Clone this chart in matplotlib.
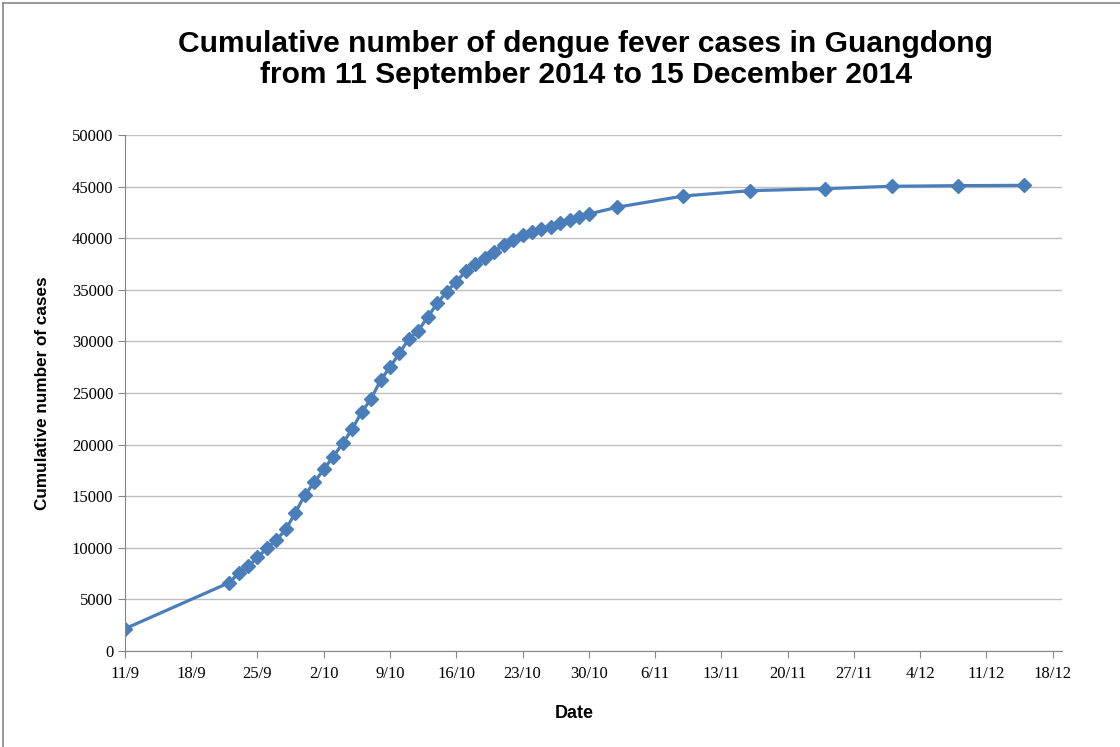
import datetime as dt
import matplotlib
matplotlib.use("Agg")
import matplotlib.pyplot as plt
import matplotlib.dates as mdates
from matplotlib.ticker import FuncFormatter, MultipleLocator
from matplotlib.lines import Line2D

# dates (day/month, year 2014) and cumulative cases
dates = ["11/9",
         "22/9", "23/9", "24/9", "25/9", "26/9", "27/9", "28/9", "29/9", "30/9",
         "1/10", "2/10", "3/10", "4/10", "5/10", "6/10", "7/10", "8/10", "9/10",
         "10/10", "11/10", "12/10", "13/10", "14/10", "15/10", "16/10", "17/10",
         "18/10", "19/10", "20/10", "21/10", "22/10", "23/10", "24/10", "25/10",
         "26/10", "27/10", "28/10", "29/10", "30/10",
         "2/11", "9/11", "16/11", "24/11", "1/12", "8/12", "15/12"]
cases = [2160,
         6620, 7530, 8200, 9080, 9950, 10760, 11790, 13400, 15120,
         16350, 17610, 18830, 20120, 21500, 23140, 24440, 26220, 27520,
         28850, 30270, 31040, 32400, 33690, 34820, 35790, 36790,
         37470, 38110, 38690, 39340, 39830, 40310, 40630, 40890,
         41110, 41500, 41760, 42030, 42340,
         43000, 44090, 44600, 44800, 45030, 45090, 45120]

x = [dt.date(2014, int(d.split("/")[1]), int(d.split("/")[0])) for d in dates]

fig = plt.figure(figsize=(11.2, 7.47), dpi=100)
ax = fig.add_axes([0.1116, 0.1285, 0.8366, 0.6908])

ax.plot(x, cases, color="#4A7EBB", lw=2.3, marker="D", ms=7,
        markerfacecolor="#4A7EBB", markeredgecolor="#4A7EBB")

ax.set_ylim(0, 50000)
ax.yaxis.set_major_locator(MultipleLocator(5000))
start = mdates.date2num(dt.date(2014, 9, 11))
ax.set_xlim(start, mdates.date2num(dt.date(2014, 12, 19)))
ax.set_xticks([start + 7 * i for i in range(15)])
ax.xaxis.set_major_formatter(FuncFormatter(
    lambda v, p: "%d/%d" % (mdates.num2date(v).day, mdates.num2date(v).month)))

ax.grid(axis="y", color="#BEBEBE", lw=1)
ax.set_axisbelow(True)
for s in ["top", "right"]:
    ax.spines[s].set_visible(False)
for s in ["left", "bottom"]:
    ax.spines[s].set_color("#868686")
ax.tick_params(direction="out", length=5, color="#868686", labelsize=12)
for lab in ax.get_xticklabels() + ax.get_yticklabels():
    lab.set_family("Liberation Serif")
ax.tick_params(axis="x", pad=6)

fig.text(0.523, 0.92, "Cumulative number of dengue fever cases in Guangdong\nfrom 11 September 2014 to 15 December 2014",
         ha="center", va="center", fontsize=21.6, fontweight="bold",
         family="Liberation Sans", linespacing=1.15)
fig.text(0.038, 0.474, "Cumulative number of cases", rotation=90, ha="center", va="center",
         fontsize=12.3, fontweight="bold", family="Liberation Sans")
fig.text(0.513, 0.045, "Date", ha="center", va="center",
         fontsize=13, fontweight="bold", family="Liberation Sans")

# grey frame of the chart area (top and left edges visible)
fig.add_artist(Line2D([0.003, 1.0], [0.996, 0.996], transform=fig.transFigure, color="#888888", lw=1.2))
fig.add_artist(Line2D([0.003, 0.003], [0.0, 0.996], transform=fig.transFigure, color="#888888", lw=1.2))

fig.savefig("out.png", dpi=100)
